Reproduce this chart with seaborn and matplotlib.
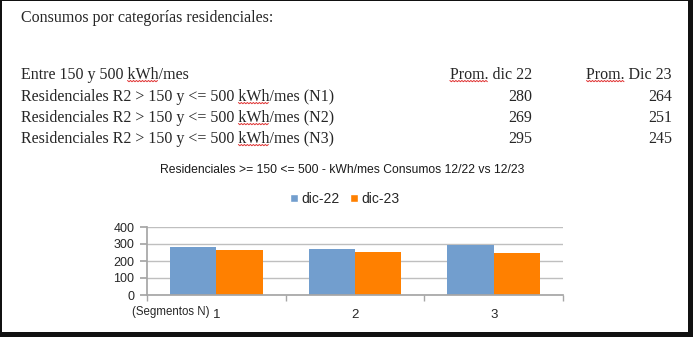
import matplotlib
matplotlib.use("Agg")
import matplotlib.pyplot as plt
import seaborn as sns
import pandas as pd
import numpy as np
from matplotlib.patches import Rectangle, Patch
from matplotlib.lines import Line2D

# ---- data ----
segments = ["1", "2", "3"]
periods = ["dic-22", "dic-23"]
dic22 = [280, 269, 295]
dic23 = [264, 251, 245]
row_labels = [
    "Residenciales R2 > 150 y <= 500 kWh/mes (N1)",
    "Residenciales R2 > 150 y <= 500 kWh/mes (N2)",
    "Residenciales R2 > 150 y <= 500 kWh/mes (N3)",
]
col_headers = ["Prom. dic 22", "Prom. Dic 23"]
yticks = [0, 100, 200, 300, 400]

df = pd.DataFrame({
    "Segmento": segments * 2,
    "Periodo": [periods[0]] * 3 + [periods[1]] * 3,
    "Valor": dic22 + dic23,
})

sns.set_theme(style="white")
plt.rcParams["font.family"] = ["Liberation Sans", "DejaVu Sans"]

W, H = 693, 337
fig = plt.figure(figsize=(W / 100, H / 100), dpi=100)
fig.patch.set_facecolor("white")

def fx(x):
    return x / W

def fy(y):
    return 1 - y / H

serif = ["Liberation Serif", "DejaVu Serif"]
fs = 11.5
texts_to_mark = []  # (text artist, word to underline)

fig.text(fx(21), fy(18), "Consumos por categorías residenciales:", family=serif,
         fontsize=fs, va="center", ha="left")
t = fig.text(fx(21), fy(75), "Entre 150 y 500 kWh/mes", family=serif, fontsize=fs,
             va="center", ha="left")
texts_to_mark.append((t, "kWh"))
for xr, hdr in zip([532, 672], col_headers):
    t = fig.text(fx(xr), fy(75), hdr, family=serif, fontsize=fs, va="center", ha="right")
    texts_to_mark.append((t, "Prom."))
row_y = [97, 118, 139]
for lab, v1, v2, yy in zip(row_labels, dic22, dic23, row_y):
    t = fig.text(fx(21), fy(yy), lab, family=serif, fontsize=fs, va="center", ha="left")
    texts_to_mark.append((t, "kWh"))
    fig.text(fx(532), fy(yy), str(v1), family=serif, fontsize=fs, va="center", ha="right")
    fig.text(fx(672), fy(yy), str(v2), family=serif, fontsize=fs, va="center", ha="right")

# chart
fig.text(fx(342), fy(170), "Residenciales >= 150 <= 500 - kWh/mes Consumos 12/22 vs 12/23",
         fontsize=8.7, ha="center", va="center", color="#1a1a1a")

ax = fig.add_axes([fx(147), fy(295), (563 - 147) / W, (295 - 227) / H])
blue = "#729ECE"
orange = "#FF8000"
sns.barplot(data=df, x="Segmento", y="Valor", hue="Periodo", palette=[blue, orange],
            width=0.667, saturation=1, ax=ax, legend=False, linewidth=0)
ax.set_xlim(-0.5, 2.5)
ax.set_ylim(0, 400)
ax.set_yticks(yticks)
ax.set_xlabel("")
ax.set_ylabel("")
ax.grid(axis="y", color="#BFBFBF", linewidth=1)
ax.set_axisbelow(True)
for s in ["top", "right"]:
    ax.spines[s].set_visible(False)
ax.spines["left"].set_color("#A6A6A6")
ax.spines["bottom"].set_color("#A6A6A6")
ax.tick_params(axis="y", length=5, color="#A6A6A6", labelsize=9, pad=4, left=True)
ax.tick_params(axis="x", which="major", length=0, labelsize=9.5, pad=10)
ax.set_xticks([-0.5, 0.5, 1.5, 2.5], minor=True)
ax.tick_params(axis="x", which="minor", length=4, color="#A6A6A6", bottom=True)
ax.set_facecolor("white")

fig.text(fx(210), fy(312), "(Segmentos N)", fontsize=8.3, ha="right", va="center")

handles = [Patch(facecolor=blue, label=periods[0]), Patch(facecolor=orange, label=periods[1])]
fig.legend(handles=handles, loc="center", bbox_to_anchor=(fx(345), fy(199)), ncol=2,
           frameon=False, fontsize=10, handlelength=0.55, handleheight=0.55,
           handletextpad=0.25, columnspacing=0.75)

# red spell-check wavy underlines
fig.canvas.draw()
renderer = fig.canvas.get_renderer()
for t, word in texts_to_mark:
    s = t.get_text()
    i = s.index(word)
    bb = t.get_window_extent(renderer)
    def width_of(sub):
        if not sub:
            return 0.0
        tmp = fig.text(0, 0, sub, family=serif, fontsize=fs)
        w = tmp.get_window_extent(renderer).width
        tmp.remove()
        return w
    x0 = bb.x0 + width_of(s[:i])
    x1 = bb.x0 + width_of(s[:i + len(word)])
    ybase = bb.y0 + 2.5
    xs = np.arange(x0, x1 + 0.01, 1.5)
    ys = ybase + np.where(np.arange(len(xs)) % 2 == 0, 0.0, -1.2)
    fig.lines.append(Line2D(xs / W, ys / H, transform=fig.transFigure,
                            color="#E03030", linewidth=0.7))

# page border
fig.patches.append(Rectangle((0, 0), fx(1.5), 1, transform=fig.transFigure,
                             facecolor="#111111", edgecolor="none"))
fig.patches.append(Rectangle((0, fy(1.2)), 1, 1.2 / H, transform=fig.transFigure,
                             facecolor="#111111", edgecolor="none"))
fig.patches.append(Rectangle((fx(688), 0), 5 / W, 1, transform=fig.transFigure,
                             facecolor="#111111", edgecolor="none"))
fig.patches.append(Rectangle((0, 0), 1, 5 / H, transform=fig.transFigure,
                             facecolor="#111111", edgecolor="none"))

fig.savefig("out.png", dpi=100)
